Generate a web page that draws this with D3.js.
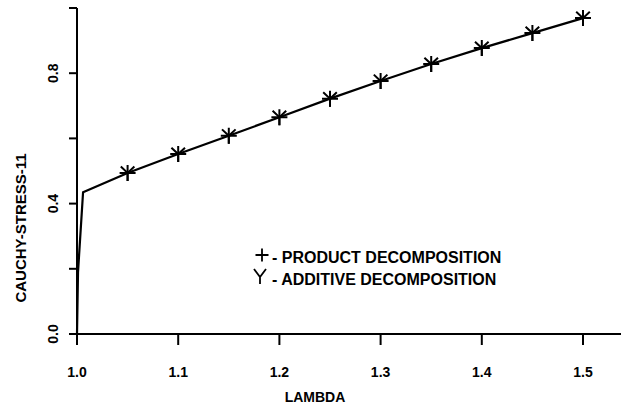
<!DOCTYPE html>
<html>
<head>
<meta charset="utf-8">
<script src="https://cdn.jsdelivr.net/npm/d3@7"></script>
<style>
  body { margin: 0; background: #fff; }
  text { font-family: "Liberation Sans", Arial, sans-serif; font-weight: bold; fill: #000; }
</style>
</head>
<body>
<div id="chart"></div>
<script>
// curve (lambda vs cauchy stress), first points are the steep initial rise
var lambdaLine = [1.0, 1.001, 1.006, 1.05, 1.10, 1.15, 1.20, 1.25, 1.30, 1.35, 1.40, 1.45, 1.50];
var stressLine = [0.0, 0.19, 0.435, 0.494, 0.552, 0.608, 0.665, 0.722, 0.776, 0.828, 0.877, 0.923, 0.969];
// marker positions (both decompositions give the same values)
var lambdaMarks = [1.05, 1.10, 1.15, 1.20, 1.25, 1.30, 1.35, 1.40, 1.45, 1.50];
var stressMarks = [0.494, 0.552, 0.608, 0.665, 0.722, 0.776, 0.828, 0.877, 0.923, 0.969];
var xTicks = [1.0, 1.1, 1.2, 1.3, 1.4, 1.5];
var yTicks = [0.0, 0.2, 0.4, 0.6, 0.8, 1.0];
var yLabeled = [0.0, 0.4, 0.8];
var legendLabels = ["- PRODUCT DECOMPOSITION", "- ADDITIVE DECOMPOSITION"];

var W = 621, H = 407;
var x = d3.scaleLinear().domain([1.0, 1.5]).range([77, 583]);
var y = d3.scaleLinear().domain([0, 1.0]).range([334, 8]);

var svg = d3.select("#chart").append("svg")
  .attr("width", W).attr("height", H);

// axes lines
svg.append("line")
  .attr("x1", x(1.0)).attr("x2", W)
  .attr("y1", y(0)).attr("y2", y(0))
  .attr("stroke", "#000").attr("stroke-width", 2);
svg.append("line")
  .attr("x1", x(1.0)).attr("x2", x(1.0))
  .attr("y1", y(0) + 3).attr("y2", y(1.0))
  .attr("stroke", "#000").attr("stroke-width", 2);

// x ticks
svg.selectAll(".xt").data(xTicks).enter().append("line")
  .attr("x1", d => x(d)).attr("x2", d => x(d))
  .attr("y1", y(0)).attr("y2", y(0) + 11)
  .attr("stroke", "#000").attr("stroke-width", 2);
svg.selectAll(".xl").data(xTicks).enter().append("text")
  .attr("x", d => x(d)).attr("y", 377)
  .attr("text-anchor", "middle")
  .style("font-size", "14px")
  .text(d => d.toFixed(1));

// y ticks
svg.selectAll(".yt").data(yTicks).enter().append("line")
  .attr("x1", x(1.0) - 8).attr("x2", x(1.0))
  .attr("y1", d => y(d)).attr("y2", d => y(d))
  .attr("stroke", "#000").attr("stroke-width", 2);
svg.selectAll(".yl").data(yLabeled).enter().append("text")
  .attr("transform", d => "translate(58," + y(d) + ") rotate(-90)")
  .attr("text-anchor", "middle")
  .style("font-size", "14px")
  .text(d => d.toFixed(1));

// axis titles
svg.append("text")
  .attr("x", 315).attr("y", 402)
  .attr("text-anchor", "middle")
  .style("font-size", "14px")
  .text("LAMBDA");
svg.append("text")
  .attr("transform", "translate(26,228) rotate(-90)")
  .attr("text-anchor", "middle")
  .style("font-size", "15px")
  .text("CAUCHY-STRESS-11");

// curve
var pts = lambdaLine.map((d, i) => [d, stressLine[i]]);
svg.append("path")
  .datum(pts)
  .attr("fill", "none").attr("stroke", "#000").attr("stroke-width", 2.2)
  .attr("d", d3.line().x(d => x(d[0])).y(d => y(d[1])));

// markers: "+" and "Y" overlaid
function plus(g, s) {
  g.append("path").attr("d", "M" + (-s) + ",0H" + s + "M0," + (-s) + "V" + s);
}
function ysym(g, s) {
  g.append("path").attr("d", "M" + (-s * 0.85) + "," + (-s * 0.8) + "L0,0L" + (s * 0.85) + "," + (-s * 0.8) + "M0,0V" + s);
}
var marks = svg.selectAll(".mk").data(lambdaMarks).enter().append("g")
  .attr("transform", (d, i) => "translate(" + x(d) + "," + y(stressMarks[i]) + ")")
  .attr("fill", "none").attr("stroke", "#000").attr("stroke-width", 2);
marks.each(function () {
  var g = d3.select(this);
  plus(g, 8);
  ysym(g, 8);
});

// legend
var leg = svg.append("g").attr("fill", "none").attr("stroke", "#000").attr("stroke-width", 1.8);
plus(leg.append("g").attr("transform", "translate(262,255)"), 6.5);
leg.append("g").attr("transform", "translate(260,277)")
  .append("path").attr("d", "M-6,-8L0,0L6,-8M0,0V7");
svg.selectAll(".lg").data(legendLabels).enter().append("text")
  .attr("x", 272).attr("y", (d, i) => 263 + i * 22)
  .style("font-size", "16px")
  .text(d => d);
</script>
</body>
</html>
